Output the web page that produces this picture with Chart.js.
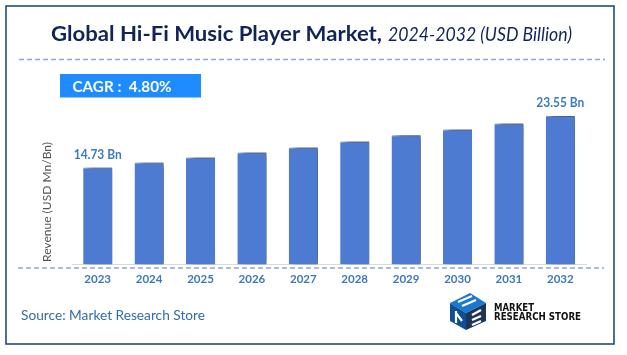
<!DOCTYPE html>
<html>
<head>
<meta charset="utf-8">
<script src="https://cdn.jsdelivr.net/npm/chart.js@4.4.0/dist/chart.umd.min.js"></script>
<style>
html,body{margin:0;padding:0;background:#fff;}
#wrap{width:627px;height:355px;position:relative;}
</style>
</head>
<body>
<div id="wrap"><canvas id="c" width="627" height="355"></canvas></div>
<script>
const years = ['2023','2024','2025','2026','2027','2028','2029','2030','2031','2032'];
const revenue = [14.73, 15.59, 16.45, 17.31, 18.17, 19.20, 20.28, 21.26, 22.29, 23.55];
const labelledIndexes = [0, 9];
const titleBold = 'Global Hi-Fi Music Player Market,';
const titleItalic = '2024-2032 (USD Billion)';
const cagrText = 'CAGR :  4.80%';
const sourceText = 'Source: Market Research Store';
const yTitle = 'Revenue (USD Mn/Bn)';
const yMin = -1.9, yMax = 26.3;

function fitText(ctx, text, x, y, font, targetW, align) {
  ctx.save();
  ctx.font = font;
  const w = ctx.measureText(text).width;
  const s = targetW / w;
  ctx.textBaseline = 'alphabetic';
  ctx.textAlign = 'left';
  let x0 = x;
  if (align === 'center') x0 = x - targetW / 2;
  ctx.translate(x0, y);
  ctx.scale(s, 1);
  ctx.fillText(text, 0, 0);
  ctx.restore();
}

function dashed(ctx, x1, x2, y) {
  ctx.save();
  ctx.strokeStyle = '#8ea8d4';
  ctx.lineWidth = 1.3;
  ctx.setLineDash([5, 3]);
  ctx.beginPath();
  ctx.moveTo(x1, y); ctx.lineTo(x2, y);
  ctx.stroke();
  ctx.restore();
}

function drawLogo(ctx) {
  ctx.save();
  const ox = 448, oy = 293;
  ctx.fillStyle = '#1b78d0';
  ctx.beginPath();
  ctx.moveTo(ox + 2, oy + 10); ctx.lineTo(ox + 22, oy); ctx.lineTo(ox + 38, oy + 10); ctx.lineTo(ox + 18, oy + 20);
  ctx.closePath(); ctx.fill();
  ctx.fillStyle = '#0f4f97';
  ctx.beginPath();
  ctx.moveTo(ox + 2, oy + 10); ctx.lineTo(ox + 18, oy + 20); ctx.lineTo(ox + 18, oy + 37); ctx.lineTo(ox + 2, oy + 28);
  ctx.closePath(); ctx.fill();
  ctx.fillStyle = '#1d3557';
  ctx.beginPath();
  ctx.moveTo(ox + 18, oy + 20); ctx.lineTo(ox + 38, oy + 10); ctx.lineTo(ox + 38, oy + 28); ctx.lineTo(ox + 18, oy + 37);
  ctx.closePath(); ctx.fill();
  ctx.strokeStyle = '#ffffff';
  ctx.lineWidth = 2.2;
  ctx.beginPath();
  ctx.moveTo(ox + 10, oy + 9); ctx.lineTo(ox + 24, oy + 3);
  ctx.moveTo(ox + 14, oy + 13); ctx.lineTo(ox + 28, oy + 7);
  ctx.moveTo(ox + 8, oy + 18); ctx.lineTo(ox + 8, oy + 30);
  ctx.moveTo(ox + 8, oy + 20); ctx.lineTo(ox + 14, oy + 28);
  ctx.moveTo(ox + 24, oy + 22); ctx.lineTo(ox + 33, oy + 17);
  ctx.moveTo(ox + 24, oy + 27); ctx.lineTo(ox + 33, oy + 23);
  ctx.moveTo(ox + 24, oy + 32); ctx.lineTo(ox + 33, oy + 28);
  ctx.stroke();
  ctx.fillStyle = '#111111';
  fitText(ctx, 'MARKET', 494, 311, 'bold 11px "DejaVu Sans"', 40, 'left');
  fitText(ctx, 'RESEARCH STORE', 494, 320, 'bold 11px "DejaVu Sans"', 87, 'left');
  ctx.restore();
}

const decor = {
  id: 'decor',
  beforeDraw(chart) {
    const ctx = chart.ctx;
    ctx.save();
    ctx.fillStyle = '#ffffff';
    ctx.fillRect(0, 0, chart.width, chart.height);
    ctx.strokeStyle = '#1f4e79';
    ctx.lineWidth = 1.6;
    ctx.strokeRect(6, 6, 608, 338);
    ctx.fillStyle = '#10245a';
    fitText(ctx, titleBold, 51, 41, 'bold 21px Lato', 331, 'left');
    fitText(ctx, titleItalic, 388, 41, 'italic 19px Lato', 184, 'left');
    dashed(ctx, 19, 605, 59.5);
    dashed(ctx, 18, 604, 268);
    ctx.fillStyle = '#1e8bff';
    ctx.fillRect(60, 74, 141, 23.5);
    ctx.fillStyle = '#ffffff';
    fitText(ctx, cagrText, 72.5, 91.7, 'bold 15px Lato', 99, 'left');
    ctx.save();
    ctx.translate(51, 202);
    ctx.rotate(-Math.PI / 2);
    ctx.fillStyle = '#555555';
    fitText(ctx, yTitle, 0, 0, '12px Lato', 120, 'center');
    ctx.restore();
    ctx.fillStyle = '#2f6ea8';
    fitText(ctx, sourceText, 21, 320.3, '14px Lato', 184, 'left');
    drawLogo(ctx);
    ctx.restore();
  },
  beforeDatasetsDraw(chart) {
    const ctx = chart.ctx;
    ctx.save();
    ctx.shadowColor = 'rgba(0,0,0,0.85)';
    ctx.shadowBlur = 6;
    ctx.shadowOffsetX = 5;
    ctx.shadowOffsetY = 0;
  },
  afterDatasetsDraw(chart) {
    const ctx = chart.ctx;
    ctx.restore();
    const meta = chart.getDatasetMeta(0);
    ctx.save();
    ctx.fillStyle = '#3b7bc4';
    labelledIndexes.forEach(i => {
      const bar = meta.data[i];
      const txt = revenue[i].toFixed(2) + ' Bn';
      fitText(ctx, txt, bar.x, bar.y - 9, 'bold 13px Lato', 48, 'center');
    });
    ctx.restore();
  }
};

new Chart(document.getElementById('c'), {
  type: 'bar',
  data: {
    labels: years,
    datasets: [{
      data: revenue,
      base: yMin,
      backgroundColor: '#4c7bd1',
      borderColor: '#7f9fe0',
      borderWidth: {top: 1, left: 0, right: 0, bottom: 0},
      borderSkipped: 'bottom',
      categoryPercentage: 1,
      barPercentage: 0.565
    }]
  },
  options: {
    responsive: false,
    animation: false,
    events: [],
    layout: {padding: {left: 72, right: 41, top: 100, bottom: 60.6}},
    plugins: {legend: {display: false}, tooltip: {enabled: false}},
    scales: {
      x: {
        grid: {display: false, drawTicks: false, tickLength: 0},
        border: {display: true, color: '#d9d9d9', width: 1},
        ticks: {color: '#3b78bf', font: {family: 'Lato', weight: 'bold', size: 11.5}, padding: 8}
      },
      y: {display: false, min: yMin, max: yMax}
    }
  },
  plugins: [decor]
});
</script>
</body>
</html>
